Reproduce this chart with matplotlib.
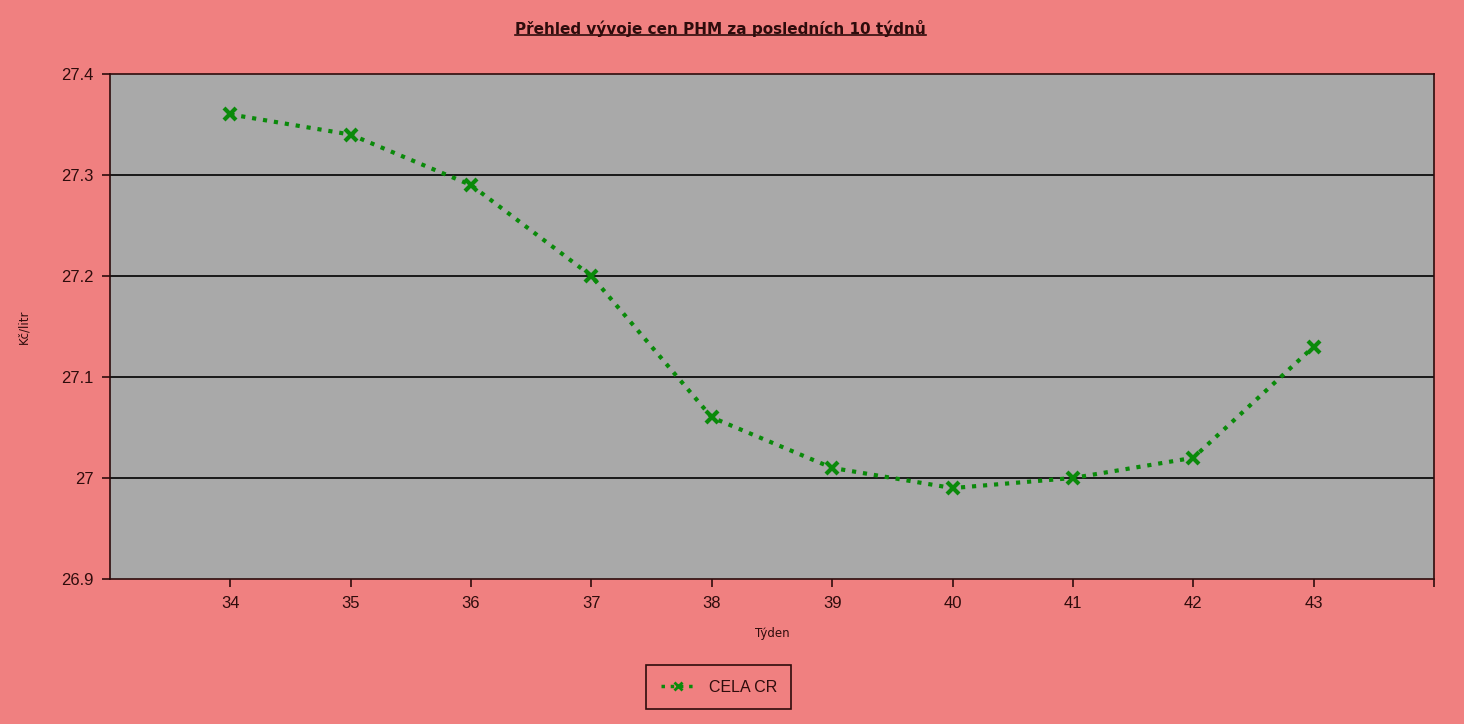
import matplotlib.pyplot as plt
from matplotlib.lines import Line2D

# Data
weeks = [34, 35, 36, 37, 38, 39, 40, 41, 42, 43]
prices = [27.36, 27.34, 27.29, 27.20, 27.06, 27.01, 26.99, 27.00, 27.02, 27.13]
y_ticks = [26.9, 27.0, 27.1, 27.2, 27.3, 27.4]
y_labels = ["26.9", "27", "27.1", "27.2", "27.3", "27.4"]
series_name = "CELA CR"
title = "Přehled vývoje cen PHM za posledních 10 týdnů"

bg = "#f08080"
plot_bg = "#a9a9a9"
ink = "#2e0c0c"
green = "#0a8a0a"

fig = plt.figure(figsize=(14.64, 7.24), dpi=100, facecolor=bg)
ax = fig.add_axes([0.0751, 0.2003, 0.9044, 0.6975])
ax.set_facecolor(plot_bg)

ax.plot(weeks, prices, linestyle=":", linewidth=3, color=green,
        marker="x", markersize=9, markeredgewidth=3, label=series_name)

ax.set_xlim(33, 44)
ax.set_ylim(26.9, 27.4)
ax.set_xticks(list(range(34, 45)))
ax.set_xticklabels([str(w) for w in range(34, 44)] + [""])
ax.set_yticks(y_ticks)
ax.set_yticklabels(y_labels)
for y in y_ticks[1:-1]:
    ax.axhline(y, color="black", linewidth=1.2, zorder=1)

ax.tick_params(axis="both", direction="out", length=6, width=1.2,
               colors=ink, labelsize=12, pad=6)
for lbl in ax.get_xticklabels() + ax.get_yticklabels():
    lbl.set_fontfamily("Liberation Sans")
for s in ax.spines.values():
    s.set_color(ink)
    s.set_linewidth(1.2)

ax.set_xlabel("Týden", fontsize=8.5, color=ink)
ax.xaxis.set_label_coords(0.5, -0.095)
ax.set_ylabel("Kč/litr", fontsize=8.5, color=ink)
ax.yaxis.set_label_coords(-0.06, 0.5)

t = fig.text(0.492, 0.961, title, ha="center", va="center",
             fontsize=11, fontweight="bold", color=ink)

# underline the title
fig.canvas.draw()
bb = t.get_window_extent().transformed(fig.transFigure.inverted())
fig.add_artist(Line2D([bb.x0, bb.x1], [bb.y0 + 0.002, bb.y0 + 0.002],
                      transform=fig.transFigure, color=ink, linewidth=1.2))

leg = fig.legend(loc="center", bbox_to_anchor=(0.491, 0.051),
                 frameon=True, fancybox=False, facecolor=bg,
                 edgecolor=ink, handlelength=2.2, borderpad=0.9,
                 prop={"family": "Liberation Sans", "size": 11.5})
leg.get_frame().set_linewidth(1.2)
leg.get_frame().set_alpha(1)
for txt in leg.get_texts():
    txt.set_color(ink)
for h in leg.legend_handles:
    h.set_markersize(6)
    h.set_markeredgewidth(2)
    h.set_linewidth(2.5)

plt.savefig("out.png", dpi=100, facecolor=bg)
